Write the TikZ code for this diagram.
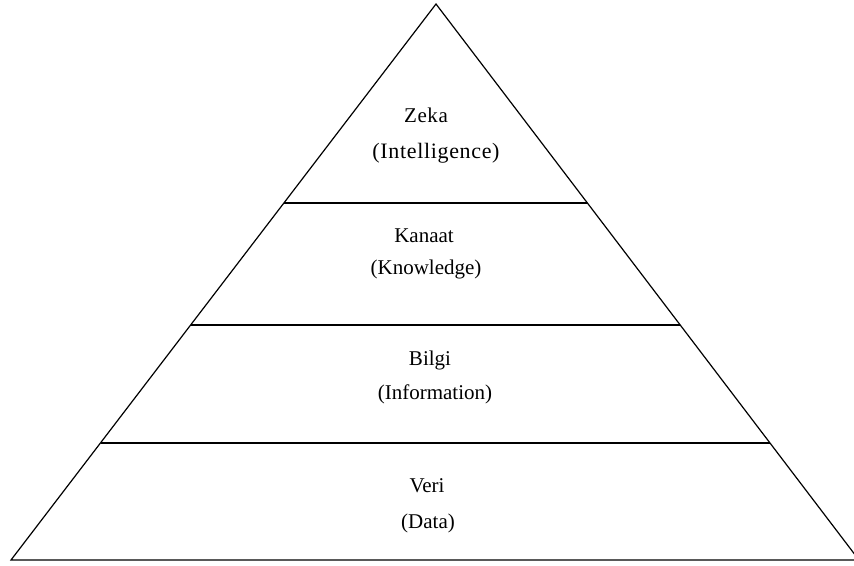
\documentclass[tikz,border=0pt]{standalone}
\usepackage{fontspec}
\setmainfont{Liberation Serif}
\begin{document}
\begin{tikzpicture}[x=1pt,y=-1pt,
  edge/.style={line width=1.2pt,black},
  lbl/.style={anchor=base,inner sep=0pt,font=\fontsize{21}{25}\selectfont}]
\useasboundingbox (0,0) rectangle (854,565);
\clip (0,0) rectangle (854,565);
% triangle corners
\coordinate (apex) at (436,4);
\coordinate (bl) at (11,560);
\coordinate (br) at (859,560);
% layer boundaries
\coordinate (l1) at (284,203); \coordinate (r1) at (587,203);
\coordinate (l2) at (191,325); \coordinate (r2) at (680,325);
\coordinate (l3) at (100.5,443); \coordinate (r3) at (770,443);
\draw[edge,line join=miter] (bl) -- (apex) -- (br) -- cycle;
\draw[edge] (l1) -- (r1);
\draw[edge] (l2) -- (r2);
\draw[edge] (l3) -- (r3);
% labels
\node[lbl,font=\fontsize{21}{25}\selectfont\addfontfeature{LetterSpace=3}] (zeka) at (426,122) {Zeka};
\node[lbl,font=\fontsize{22}{26}\selectfont\addfontfeature{LetterSpace=3}] (intel) at (436,158) {(Intelligence)};
\node[lbl] (kanaat) at (424,242) {Kanaat};
\node[lbl] (know) at (426,274) {(Knowledge)};
\node[lbl] (bilgi) at (430,365) {Bilgi};
\node[lbl] (info) at (435,399) {(Information)};
\node[lbl] (veri) at (427,492) {Veri};
\node[lbl] (data) at (428,528) {(Data)};
\end{tikzpicture}
\end{document}
